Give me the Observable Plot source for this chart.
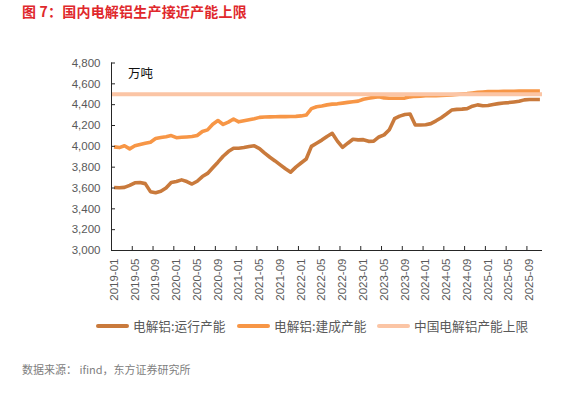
<!DOCTYPE html>
<html>
<head>
<meta charset="utf-8">
<script src="https://cdn.jsdelivr.net/npm/d3@7"></script>
<script src="https://cdn.jsdelivr.net/npm/@observablehq/plot@0.6"></script>
<style>
  html, body { margin: 0; padding: 0; background: #fff; }
  body { width: 584px; height: 394px; position: relative; overflow: hidden; font-family: "Noto Sans CJK SC", "Liberation Sans", sans-serif; }
  #title { position: absolute; left: 22px; top: 1px; font-size: 14px; font-weight: bold; color: #e0282c; white-space: nowrap; letter-spacing: 0.2px; }
  #chart { position: absolute; left: 0; top: 30px; }
  #unit { position: absolute; left: 128px; top: 63px; font-size: 12.5px; color: #111; }
  .leg { position: absolute; top: 316px; font-size: 12.7px; color: #595959; white-space: nowrap; display: flex; align-items: center; }
  .leg i { display: inline-block; width: 33px; height: 4px; border-radius: 2px; margin-right: 4px; }
  #caption { position: absolute; left: 22px; top: 361px; font-size: 11px; color: #808080; white-space: nowrap; }
</style>
</head>
<body>
<div id="title">图 7：国内电解铝生产接近产能上限</div>
<div id="chart"></div>
<div id="unit">万吨</div>
<div id="legend"></div>
<div id="caption">数据来源： ifind，东方证券研究所</div>
<script>
// Categories: months 2019-01 .. 2025-11
const months = [
  "2019-01","2019-02","2019-03","2019-04","2019-05","2019-06","2019-07","2019-08","2019-09","2019-10","2019-11","2019-12",
  "2020-01","2020-02","2020-03","2020-04","2020-05","2020-06","2020-07","2020-08","2020-09","2020-10","2020-11","2020-12",
  "2021-01","2021-02","2021-03","2021-04","2021-05","2021-06","2021-07","2021-08","2021-09","2021-10","2021-11","2021-12",
  "2022-01","2022-02","2022-03","2022-04","2022-05","2022-06","2022-07","2022-08","2022-09","2022-10","2022-11","2022-12",
  "2023-01","2023-02","2023-03","2023-04","2023-05","2023-06","2023-07","2023-08","2023-09","2023-10","2023-11","2023-12",
  "2024-01","2024-02","2024-03","2024-04","2024-05","2024-06","2024-07","2024-08","2024-09","2024-10","2024-11","2024-12",
  "2025-01","2025-02","2025-03","2025-04","2025-05","2025-06","2025-07","2025-08","2025-09","2025-10","2025-11"
];

// 电解铝:运行产能 (万吨)
const running = [
  3605,3602,3606,3625,3650,3652,3642,3565,3555,3568,3600,3652,
  3662,3678,3662,3638,3665,3710,3740,3795,3848,3905,3950,3982,
  3982,3988,3998,4005,3978,3935,3895,3860,3822,3785,3752,3800,
  3840,3878,4000,4030,4060,4095,4125,4050,3990,4030,4068,4062,
  4064,4048,4050,4090,4110,4160,4265,4290,4305,4310,4205,4205,
  4207,4218,4245,4275,4310,4348,4355,4357,4362,4385,4398,4390,
  4392,4402,4410,4416,4420,4426,4432,4446,4450,4450,4450
];

// 电解铝:建成产能 (万吨)
const built = [
  3995,3988,4005,3976,4005,4018,4030,4040,4075,4085,4092,4103,
  4083,4087,4090,4094,4104,4142,4158,4212,4248,4210,4232,4262,
  4235,4245,4255,4265,4278,4282,4283,4284,4285,4285,4286,4288,
  4292,4300,4362,4380,4388,4398,4405,4408,4415,4422,4428,4434,
  4452,4462,4470,4476,4465,4462,4462,4462,4463,4475,4480,4482,
  4485,4486,4487,4488,4490,4494,4498,4502,4506,4512,4518,4522,
  4525,4526,4527,4528,4528,4529,4530,4530,4530,4530,4530
];

// 中国电解铝产能上限 (万吨)
const capLimit = [4500];

const seriesNames = ["电解铝:运行产能", "电解铝:建成产能", "中国电解铝产能上限"];
const seriesColors = ["#c97a3c", "#f79646", "#fbc5a5"];

const yTicks = [3000, 3200, 3400, 3600, 3800, 4000, 4200, 4400, 4600, 4800];
const xLabelMonths = ["2019-01","2019-05","2019-09","2020-01","2020-05","2020-09","2021-01","2021-05","2021-09","2022-01","2022-05","2022-09","2023-01","2023-05","2023-09","2024-01","2024-05","2024-09","2025-01","2025-05","2025-09"];

// tables built from the arrays
const runData = running.map((v, i) => ({i, v}));
const builtData = built.map((v, i) => ({i, v}));
const labelIdx = xLabelMonths.map(m => months.indexOf(m));
const tickBounds = labelIdx.slice(1).map(i => i - 0.5);

const chart = Plot.plot({
  width: 584,
  height: 280,
  marginLeft: 111,
  marginRight: 42,
  marginTop: 32.5,
  marginBottom: 60,
  style: {fontFamily: "'Liberation Sans', Arial, sans-serif", fontSize: "11.5px", background: "transparent", overflow: "visible"},
  x: {type: "linear", domain: [-0.5, months.length - 0.5], label: null},
  y: {domain: [3000, 4800], label: null},
  marks: [
    Plot.lineY(runData, {x: "i", y: "v", stroke: seriesColors[0], strokeWidth: 3.6, strokeLinecap: "butt"}),
    Plot.lineY(builtData, {x: "i", y: "v", stroke: seriesColors[1], strokeWidth: 3.6, strokeLinecap: "butt"}),
    Plot.ruleY(capLimit, {stroke: seriesColors[2], strokeWidth: 4}),
    Plot.ruleX([-0.5], {stroke: "#262626", strokeWidth: 1}),
    Plot.ruleY([3000], {stroke: "#262626", strokeWidth: 1}),
    Plot.axisY(yTicks, {tickSize: 4, insetLeft: 4, tickPadding: 11, tickFormat: d3.format(","), stroke: "#262626", fill: "#595959", fontSize: 11.5}),
    Plot.axisX(tickBounds, {tickSize: 4, insetBottom: 4, tickFormat: () => "", stroke: "#262626"}),
    Plot.axisX(labelIdx, {tickSize: 0, tickPadding: 8, tickRotate: -90, tickFormat: i => months[i], fill: "#595959", fontSize: 11.5})
  ]
});
document.getElementById("chart").appendChild(chart);

// legend
const legendLeft = [96, 237, 377];
const legend = document.getElementById("legend");
seriesNames.forEach((name, k) => {
  const d = document.createElement("div");
  d.className = "leg";
  d.style.left = legendLeft[k] + "px";
  d.innerHTML = `<i style="background:${seriesColors[k]}"></i><span>${name}</span>`;
  legend.appendChild(d);
});
</script>
</body>
</html>
